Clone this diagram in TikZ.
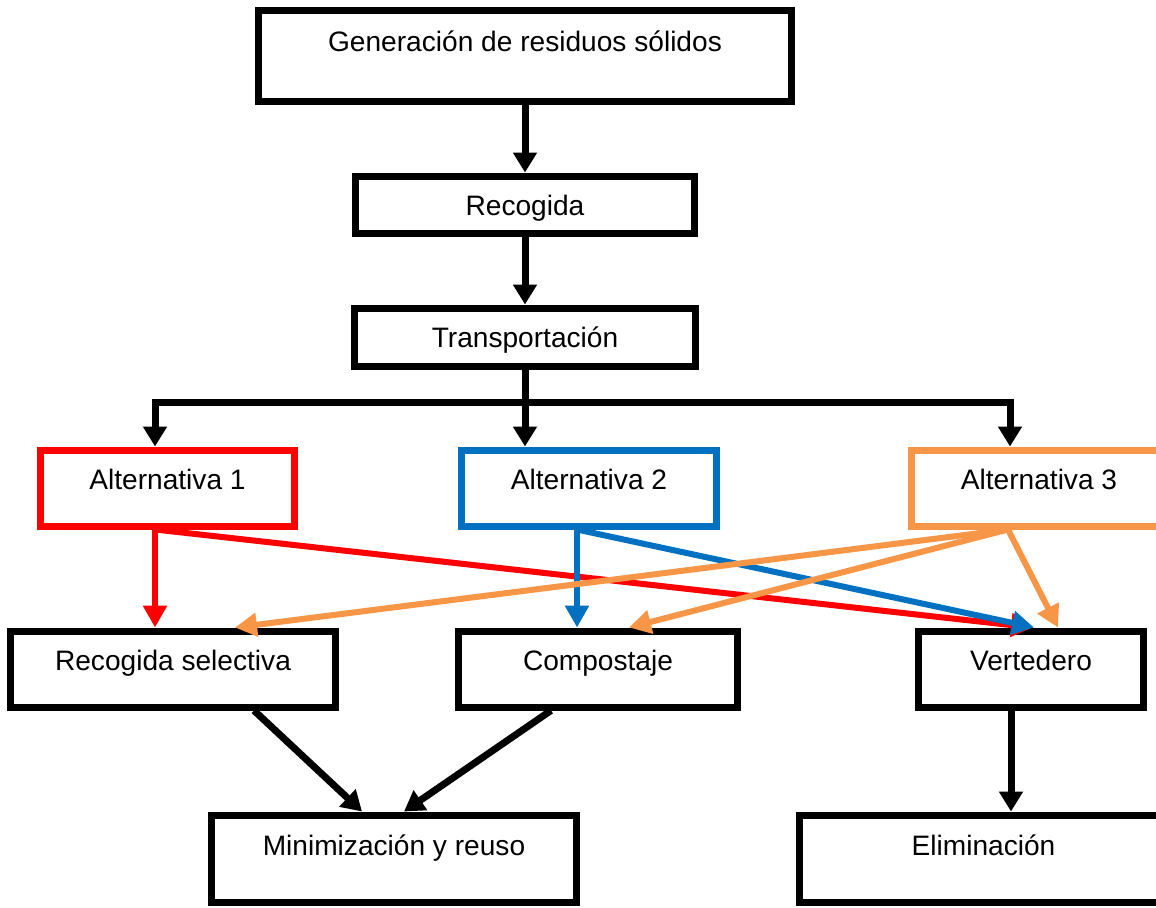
\documentclass[tikz,border=0pt]{standalone}
\usepackage{fontspec}
\setmainfont{Liberation Sans}
\definecolor{offred}{RGB}{255,0,0}
\definecolor{offblue}{RGB}{0,112,192}
\definecolor{offorange}{RGB}{247,150,70}
\usetikzlibrary{arrows.meta,calc}

\begin{document}
\begin{tikzpicture}[x=0.02cm,y=-0.02cm,
    stagebox/.style 2 args={draw=#1,line width=0.14cm,inner sep=0pt,
      text height=0.42cm,text depth=#2,font=\fontsize{16}{19}\selectfont},
    flow/.style={line width=0.14cm,-{Triangle[length=0.4cm,width=0.46cm]}},
    route/.style={draw=#1,line width=0.12cm,-{Triangle[length=0.44cm,width=0.46cm]}}]
        \useasboundingbox[fill=white] (0,0) rectangle (1156,907);

        \node[stagebox={black}{0.59cm},minimum width=10.66cm,minimum height=1.84cm]
              (gen) at (525,56) {Generación de residuos sólidos};
        \node[stagebox={black}{0cm},minimum width=6.8cm,minimum height=1.14cm]
              (rec) at (525,204.5) {Recogida};
        \node[stagebox={black}{0cm},minimum width=6.84cm,minimum height=1.16cm]
              (trans) at (525,337) {Transportación};

        \node[stagebox={offred}{0.36cm},minimum width=5.1cm,minimum height=1.52cm]
              (alt1) at (167.5,488) {Alternativa 1};
        \node[stagebox={offblue}{0.36cm},minimum width=5.1cm,minimum height=1.52cm]
              (alt2) at (589,488) {Alternativa 2};
        \node[stagebox={offorange}{0.36cm},minimum width=5.1cm,minimum height=1.52cm]
              (alt3) at (1039,488) {Alternativa 3};

        \node[stagebox={black}{0.36cm},minimum width=6.52cm,minimum height=1.52cm]
              (rsel) at (173,669) {Recogida selectiva};
        \node[stagebox={black}{0.36cm},minimum width=5.58cm,minimum height=1.52cm]
              (comp) at (598,669) {Compostaje};
        \node[stagebox={black}{0.36cm},minimum width=4.52cm,minimum height=1.52cm]
              (vert) at (1031,669) {Vertedero};

        \node[stagebox={black}{0.54cm},minimum width=7.32cm,minimum height=1.74cm]
              (mini) at (394,858.5) {Minimización y reuso};
        \node[stagebox={black}{0.54cm},minimum width=7.36cm,minimum height=1.74cm]
              (elim) at (983.5,858.5) {Eliminación};

        \draw[flow] (gen) -- (rec);
        \draw[flow] (rec) -- (trans);

        \coordinate (bus) at ($(trans.south)+(0,32.5)$);
        \coordinate (a1in) at ($(alt1.north)+(-12.5,0)$);
        \coordinate (a3in) at ($(alt3.north)+(-29,0)$);
        \draw[line width=0.14cm] (trans.south) -- (bus);
        \draw[flow] (bus) -| (a1in);
        \draw[flow] (bus) -- (bus |- alt2.north);
        \draw[flow] (bus) -| (a3in);

        \coordinate (a1out) at ($(alt1.south)+(-12.5,0)$);
        \coordinate (a2out) at ($(alt2.south)+(-12,0)$);
        \coordinate (a3out) at ($(alt3.south)+(-31,0)$);
        \draw[route=offred] (a1out) -- (a1out |- rsel.north);
        \draw[route=offred] (a1out) -- ($(vert.north)+(2,0)$);
        \draw[route=offblue] (a2out) -- (a2out |- comp.north);
        \draw[route=offblue] (a2out) -- ($(vert.north)+(3,0)$);
        \draw[route=offorange] (a3out) -- ($(rsel.north)+(62,0)$);
        \draw[route=offorange] (a3out) -- ($(comp.north)+(31,0)$);
        \draw[route=offorange] (a3out) -- ($(vert.north)+(27,0)$);

        \draw[flow] ($(rsel.south)+(81,0)$) -- ($(mini.north)+(-32,0)$);
        \draw[flow] ($(comp.south)+(-47,0)$) -- ($(mini.north)+(10,0)$);
        \coordinate (vout) at ($(vert.south)+(-20,0)$);
        \draw[flow] (vout) -- (vout |- elim.north);
      \end{tikzpicture}
\end{document}
